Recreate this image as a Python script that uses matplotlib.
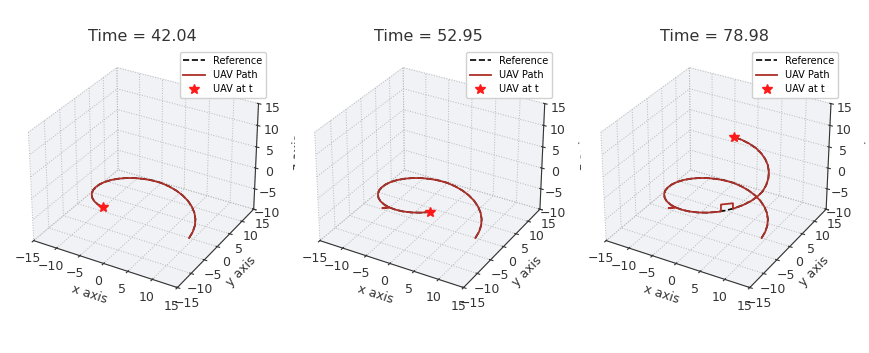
import numpy as np
import matplotlib
matplotlib.use('Agg')
import matplotlib.pyplot as plt
from matplotlib.transforms import Bbox, TransformedBbox, IdentityTransform

# reference helix (10 deg steps, 0..460 deg)
ref_x = [9.2, 9.05, 8.62, 7.91, 6.95, 5.77, 4.4, 2.88, 1.27, -0.4,
         -2.07, -3.68, -5.2, -6.57, -7.75, -8.71, -9.42, -9.85, -10.0, -9.85,
         -9.42, -8.71, -7.75, -6.57, -5.2, -3.68, -2.07, -0.4, 1.27, 2.88,
         4.4, 5.77, 6.95, 7.91, 8.62, 9.05, 9.2, 9.05, 8.62, 7.91,
         6.95, 5.77, 4.4, 2.88, 1.27, -0.4, -2.07]
ref_y = [0.0, 1.67, 3.28, 4.8, 6.17, 7.35, 8.31, 9.02, 9.45, 9.6,
         9.45, 9.02, 8.31, 7.35, 6.17, 4.8, 3.28, 1.67, 0.0, -1.67,
         -3.28, -4.8, -6.17, -7.35, -8.31, -9.02, -9.45, -9.6, -9.45, -9.02,
         -8.31, -7.35, -6.17, -4.8, -3.28, -1.67, 0.0, 1.67, 3.28, 4.8,
         6.17, 7.35, 8.31, 9.02, 9.45, 9.6, 9.45]
ref_z = [-10.0, -9.6, -9.2, -8.8, -8.4, -8.0, -7.6, -7.2, -6.8, -6.4,
         -6.0, -5.7, -5.4, -5.1, -4.8, -4.5, -4.2, -3.9, -3.6, -3.3,
         -3.0, -2.75, -2.5, -2.25, -2.0, -1.75, -1.5, -1.25, -1.0, -0.75,
         -0.5, -0.25, 0.0, 0.25, 0.5, 0.75, 1.0, 1.5, 2.0, 2.5,
         3.0, 3.4, 3.8, 4.2, 4.5, 4.8, 5.1]

# UAV path: follows the reference, with a small spur and a step detour
uav_x = [9.2, 9.05, 8.62, 7.91, 6.95, 5.77, 4.4, 2.88, 1.27, -0.4,
         -2.07, -3.68, -5.2, -6.57, -7.75, -8.71, -9.42, -9.85, -10.0, -9.85,
         -9.42, -8.71, -7.75, -6.57, -5.2, -3.68, -4.8, -3.68, -2.07, -0.4, 1.27, 2.88,
         4.4, 5.11, 5.11, 6.73, 6.73, 6.95, 7.91, 8.62, 9.05, 9.2, 9.05, 8.62, 7.91,
         6.95, 5.77, 4.4, 2.88, 1.27, -0.4, -2.07]
uav_y = [0.0, 1.67, 3.28, 4.8, 6.17, 7.35, 8.31, 9.02, 9.45, 9.6,
         9.45, 9.02, 8.31, 7.35, 6.17, 4.8, 3.28, 1.67, 0.0, -1.67,
         -3.28, -4.8, -6.17, -7.35, -8.31, -9.02, -9.5, -9.02, -9.45, -9.6, -9.45, -9.02,
         -8.31, -7.86, -7.86, -6.42, -6.42, -6.17, -4.8, -3.28, -1.67, 0.0, 1.67, 3.28, 4.8,
         6.17, 7.35, 8.31, 9.02, 9.45, 9.6, 9.45]
uav_z = [-10.0, -9.6, -9.2, -8.8, -8.4, -8.0, -7.6, -7.2, -6.8, -6.4,
         -6.0, -5.7, -5.4, -5.1, -4.8, -4.5, -4.2, -3.9, -3.6, -3.3,
         -3.0, -2.75, -2.5, -2.25, -2.0, -1.75, -2.0, -1.75, -1.5, -1.25, -1.0, -0.75,
         -0.5, -0.4, 1.2, 1.2, -0.05, 0.0, 0.25, 0.5, 0.75, 1.0, 1.5, 2.0, 2.5,
         3.0, 3.4, 3.8, 4.2, 4.5, 4.8, 5.1]

times = ['42.04', '52.95', '78.98']
ref_end = [25, 30, 46]
uav_end = [25, 32, 51]

fig = plt.figure(figsize=(8.7, 3.53), dpi=100)
lefts = [0.0165, 0.3455, 0.6745]
clip_right = [295, 581, 866]

for i in range(3):
    ax = fig.add_axes([lefts[i], 0.1395, 0.294, 0.725], projection='3d')
    r = ref_end[i] + 1
    u = uav_end[i] + 1
    ax.plot(ref_x[:r], ref_y[:r], ref_z[:r], 'k--', linewidth=1.2, label='Reference')
    ax.plot(uav_x[:u], uav_y[:u], uav_z[:u], color='#ad2f27', linewidth=1.3, label='UAV Path')
    ax.plot([uav_x[u - 1]], [uav_y[u - 1]], [uav_z[u - 1]], '*', color='#ff1a1a',
            markersize=7, linestyle='none', label='UAV at t')
    ax.set_xlim(-15, 15)
    ax.set_ylim(-15, 15)
    ax.set_zlim(-10, 15)
    ax.set_xticks([-15, -10, -5, 0, 5, 10, 15])
    ax.set_yticks([-15, -10, -5, 0, 5, 10, 15])
    ax.set_zticks([-10, -5, 0, 5, 10, 15])
    ax.set_xlabel('x axis', fontsize=9, color='#333333', labelpad=-5)
    ax.set_ylabel('y axis', fontsize=9, color='#333333', labelpad=-5)
    ax.set_zlabel('z axis', fontsize=9, color='#333333', labelpad=-2)
    ax.zaxis.label.set_clip_box(TransformedBbox(Bbox([[0, 0], [clip_right[i], 353]]),
                                                IdentityTransform()))
    ax.zaxis.label.set_clip_on(True)
    ax.tick_params(labelsize=9, colors='#333333', pad=-2)
    for a in (ax.xaxis, ax.yaxis, ax.zaxis):
        a.set_pane_color((0.94, 0.95, 0.96, 1.0))
        a._axinfo['grid']['color'] = (0.72, 0.72, 0.72, 1.0)
        a._axinfo['grid']['linestyle'] = ':'
        a._axinfo['grid']['linewidth'] = 0.7
        a.line.set_color('#333333')
    ax.set_title('Time = ' + times[i], fontsize=11.5, color='#333333', y=1.0, pad=20)
    ax.legend(loc='upper right', bbox_to_anchor=(1.002, 1.004), fontsize=7,
              framealpha=0.9, handlelength=2.2, labelspacing=0.45, borderpad=0.4)

plt.savefig('out.png', dpi=100)
